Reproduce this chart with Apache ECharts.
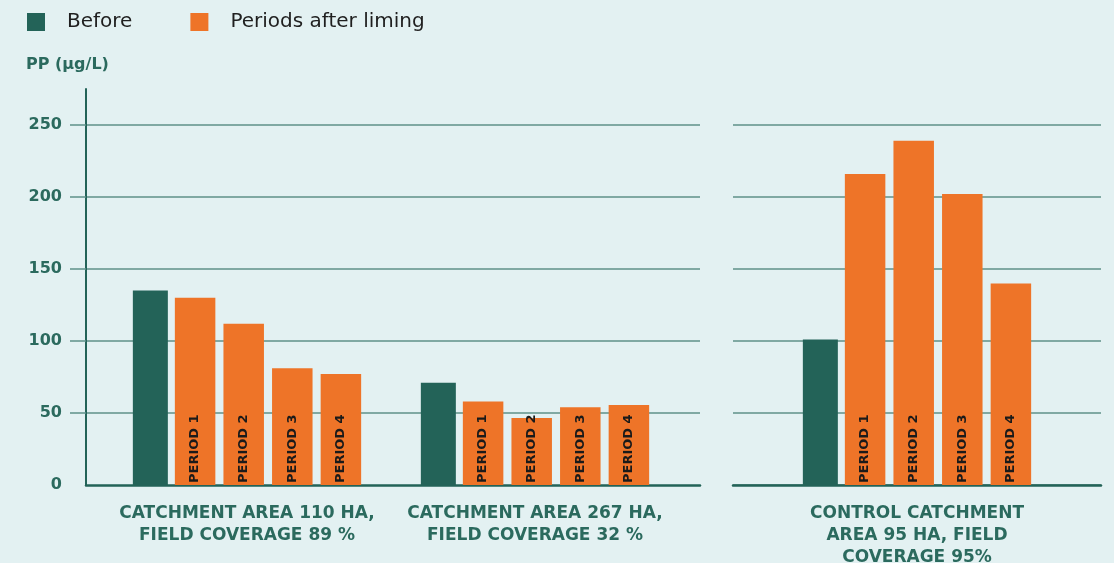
<!DOCTYPE html>
<html>
<head>
<meta charset="utf-8">
<script src="https://cdn.jsdelivr.net/npm/echarts@6/dist/echarts.min.js"></script>
<style>
  html, body { margin: 0; padding: 0; background: #e3f1f2; }
  #main { width: 1114px; height: 563px; }
</style>
</head>
<body>
<div id="main"></div>
<script>
// groups on the left panel and the control panel
const groups = ["CATCHMENT AREA 110 HA,\nFIELD COVERAGE 89 %", "CATCHMENT AREA 267 HA,\nFIELD COVERAGE 32 %"];
const controlGroup = ["CONTROL CATCHMENT\nAREA 95 HA, FIELD\nCOVERAGE 95%"];
const periodNames = ["PERIOD 1", "PERIOD 2", "PERIOD 3", "PERIOD 4"];
const yTicks = [50, 100, 150, 200, 250];

// PP (µg/L): [110 ha, 267 ha, control]
const before = [135, 71, 101];
const period1 = [130, 58, 216];
const period2 = [112, 46.5, 239];
const period3 = [81, 54, 202];
const period4 = [77, 55.5, 140];
const periods = [period1, period2, period3, period4];

const green = "#236358";
const orange = "#ee7428";
const textGreen = "#2b6a5e";
const gridColor = "#5f9189";
const font = "DejaVu Sans";

const myChart = echarts.init(document.getElementById("main"));

function barSeries(xi, data) {
  const list = [];
  list.push({
    name: "Before",
    type: "bar",
    xAxisIndex: xi,
    yAxisIndex: xi,
    data: data(before),
    barWidth: 35,
    barGap: "20%",
    itemStyle: { color: green },
  });
  periods.forEach(function (p, i) {
    list.push({
      name: "Periods after liming",
      type: "bar",
      xAxisIndex: xi,
      yAxisIndex: xi,
      data: data(p),
      barWidth: 40.5,
      barGap: "20%",
      itemStyle: { color: orange },
      label: {
        show: true,
        position: "insideBottom",
        rotate: 90,
        align: "left",
        verticalAlign: "middle",
        distance: 2,
        formatter: periodNames[i],
        color: "#1a1a1a",
        fontFamily: font,
        fontSize: 13,
        fontWeight: "bold",
      },
    });
  });
  return list;
}

const catLabel = {
  color: textGreen,
  fontFamily: font,
  fontWeight: "bold",
  fontSize: 17,
  lineHeight: 22,
  margin: 18,
  interval: 0,
};

const option = {
  backgroundColor: "#e3f1f2",
  animation: false,
  title: {
    text: "PP (µg/L)",
    left: 21,
    top: 52,
    textStyle: { color: textGreen, fontFamily: font, fontWeight: "bold", fontSize: 16 },
  },
  legend: {
    left: 27,
    top: 12,
    padding: 0,
    itemWidth: 18,
    itemHeight: 18,
    itemGap: 58,
    icon: "rect",
    data: ["Before", "Periods after liming"],
    textStyle: { color: "#1f1f1f", fontFamily: font, fontSize: 20, padding: [0, 0, 0, 17] },
  },
  grid: [
    // frame of the left panel (axis + grid lines)
    { left: 86, right: 414, top: 89, bottom: 78, outerBoundsMode: "none" },
    // control panel
    { left: 733, right: 13, top: 125, bottom: 78, outerBoundsMode: "none" },
    // bars of the left panel
    { left: 103, right: 435, top: 125, bottom: 78, outerBoundsMode: "none" },
  ],
  xAxis: [
    {
      gridIndex: 0,
      type: "category",
      data: [""],
      axisLine: { lineStyle: { color: green, width: 2.5 } },
      axisTick: { show: false },
      axisLabel: { show: false },
    },
    {
      gridIndex: 1,
      type: "category",
      data: controlGroup,
      axisLine: { lineStyle: { color: green, width: 2.5 } },
      axisTick: { show: false },
      axisLabel: catLabel,
    },
    {
      gridIndex: 2,
      type: "category",
      data: groups,
      axisLine: { show: false },
      axisTick: { show: false },
      axisLabel: catLabel,
    },
  ],
  yAxis: [
    {
      gridIndex: 0,
      type: "value",
      min: 0,
      max: 275,
      interval: 50,
      axisLine: { show: true, lineStyle: { color: green, width: 2 } },
      axisTick: { show: true, length: 16, customValues: yTicks, lineStyle: { color: gridColor, width: 1.5 } },
      axisLabel: {
        customValues: [0].concat(yTicks),
        margin: 24,
        color: textGreen,
        fontFamily: font,
        fontWeight: "bold",
        fontSize: 16,
      },
      splitLine: { show: true, lineStyle: { color: gridColor, width: 1.5 } },
    },
    {
      gridIndex: 1,
      type: "value",
      min: 0,
      max: 250,
      interval: 50,
      axisLine: { show: false },
      axisTick: { show: false },
      axisLabel: { show: false },
      splitLine: { show: true, lineStyle: { color: gridColor, width: 1.5 } },
    },
    {
      gridIndex: 2,
      type: "value",
      min: 0,
      max: 250,
      show: false,
      splitLine: { show: false },
    },
  ],
  series: barSeries(2, function (a) { return a.slice(0, 2); })
    .concat(barSeries(1, function (a) { return a.slice(2); })),
};

myChart.setOption(option);
</script>
</body>
</html>
